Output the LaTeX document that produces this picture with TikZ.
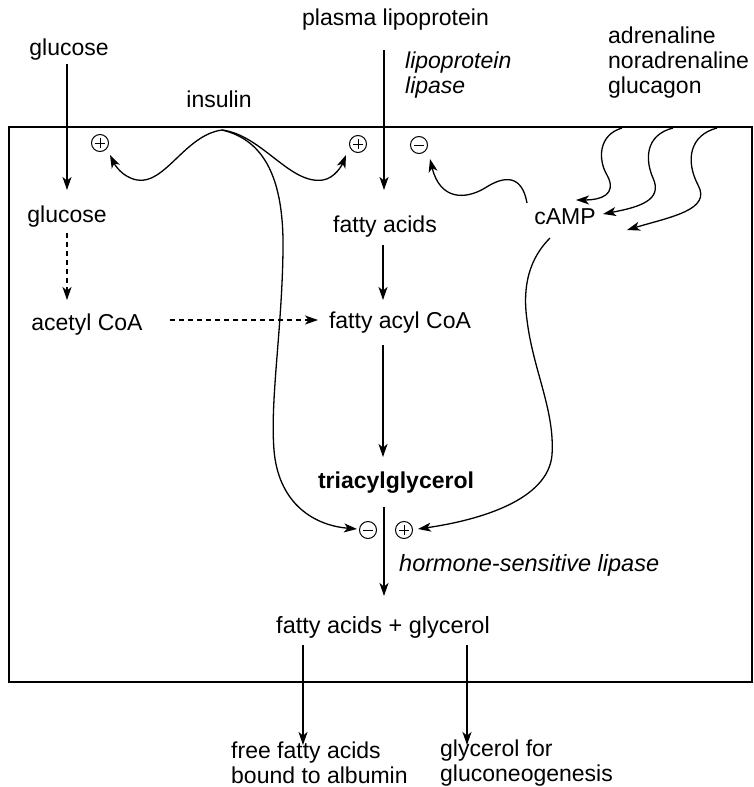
\documentclass[tikz,border=0pt]{standalone}
\usepackage{fontspec}
\setmainfont{Liberation Sans}
\usetikzlibrary{arrows.meta}
\begin{document}
\begin{tikzpicture}[x=1pt,y=-1pt,
  every node/.style={font=\fontsize{23}{25}\selectfont, inner sep=2pt},
  arr/.style={line width=1.3pt,-{Stealth[length=13pt,width=9pt,inset=3.5pt]}},
  darr/.style={arr,dash pattern=on 5pt off 4pt},
  pmsign/.style={circle,draw,line width=1pt,minimum size=17pt,inner sep=0pt},
  plusc/.style={pmsign,path picture={\draw[line width=1pt] ([xshift=-5pt]path picture bounding box.center)--([xshift=5pt]path picture bounding box.center) ([yshift=-5pt]path picture bounding box.center)--([yshift=5pt]path picture bounding box.center);}},
  minusc/.style={pmsign,path picture={\draw[line width=1pt] ([xshift=-5pt]path picture bounding box.center)--([xshift=5pt]path picture bounding box.center);}}
]
\useasboundingbox (0,0) rectangle (754,787);
\draw[line width=1.2pt] (9,127) rectangle (752,682);

\node (glc0) at (69,50) {glucose};
\node (glc1) at (67,217) {glucose};
\node (acoa) at (87,325) {acetyl CoA};
\node (ins) at (219,99) {insulin};
\node[anchor=west,inner sep=0pt] (plp) at (302,20) {plasma lipoprotein};
\node[anchor=west,font=\fontsize{23}{25}\selectfont\itshape,align=left] (lpl) at (403,75) {lipoprotein\\lipase};
\node[anchor=west,align=left] (hor) at (606,63) {adrenaline\\noradrenaline\\glucagon};
\node (fa) at (385,227) {fatty acids};
\node (camp) at (565,217) {cAMP};
\node (facoa) at (400,323) {fatty acyl CoA};
\node[font=\fontsize{23}{25}\selectfont\bfseries] (tag) at (396,483) {triacylglycerol};
\node[anchor=west,font=\fontsize{23.5}{26}\selectfont\itshape] (hsl) at (397,565) {hormone-sensitive lipase};
\node[font=\fontsize{23.5}{26}\selectfont] (fag) at (383,627) {fatty acids + glycerol};
\node[anchor=west,align=left] (ffa) at (229,763) {free fatty acids\\bound to albumin};
\node[anchor=west,align=left] (gly) at (438,763) {glycerol for\\gluconeogenesis};

\node[plusc] (p1) at (100,143) {};
\node[plusc] (p2) at (358,144) {};
\node[minusc] (m1) at (419,145) {};
\node[minusc] (m2) at (368,530) {};
\node[plusc] (p3) at (404,530) {};

\coordinate (ipk) at (222,130);
\coordinate (h1) at (622,128);
\coordinate (h2) at (673,128);
\coordinate (h3) at (717,128);

\draw[arr] (67,64) -- (67,190);
\draw[darr] (67,233) -- (67,300);
\draw[darr] (170,320) -- (318,320);
\draw[arr] (384,50) -- (384,190);
\draw[arr] (383,245) -- (383,300);
\draw[arr] (383,345) -- (383,457);
\draw[line width=1.3pt] (384,507) -- (384,552);
\draw[arr] (384,552) -- (384,596);
\draw[arr] (303,645) -- (303,745);
\draw[arr] (467,645) -- (467,745);

% insulin curves
\draw[arr] (ipk) .. controls (185,135) and (165,185) .. (137,180) .. controls (122,177) and (115,165) .. (110,155);
\draw[arr] (ipk) .. controls (262,135) and (290,185) .. (323,180) .. controls (335,178) and (342,165) .. (346,155);
\draw[arr] (ipk) .. controls (265,140) and (284,180) .. (283,250) .. controls (282,330) and (270,400) .. (274,450) .. controls (278,500) and (310,525) .. (357,529);

% cAMP inhibitory
\draw[arr] (527,203) .. controls (522,175) and (505,175) .. (485,188) .. controls (465,200) and (440,200) .. (430,159);
% hormones to cAMP
\draw[arr] (h1) .. controls (598,135) and (598,160) .. (607,175) .. controls (618,195) and (600,200) .. (576,200);
\draw[arr] (h2) .. controls (645,135) and (645,160) .. (653,178) .. controls (663,200) and (640,207) .. (603,214);
\draw[arr] (h3) .. controls (690,135) and (685,160) .. (698,185) .. controls (712,210) and (670,217) .. (627,230);
% cAMP to plus
\draw[arr] (550,238) .. controls (530,258) and (522,285) .. (527,320) .. controls (533,370) and (555,410) .. (552,455) .. controls (548,500) and (480,520) .. (418,529);
\end{tikzpicture}
\end{document}
